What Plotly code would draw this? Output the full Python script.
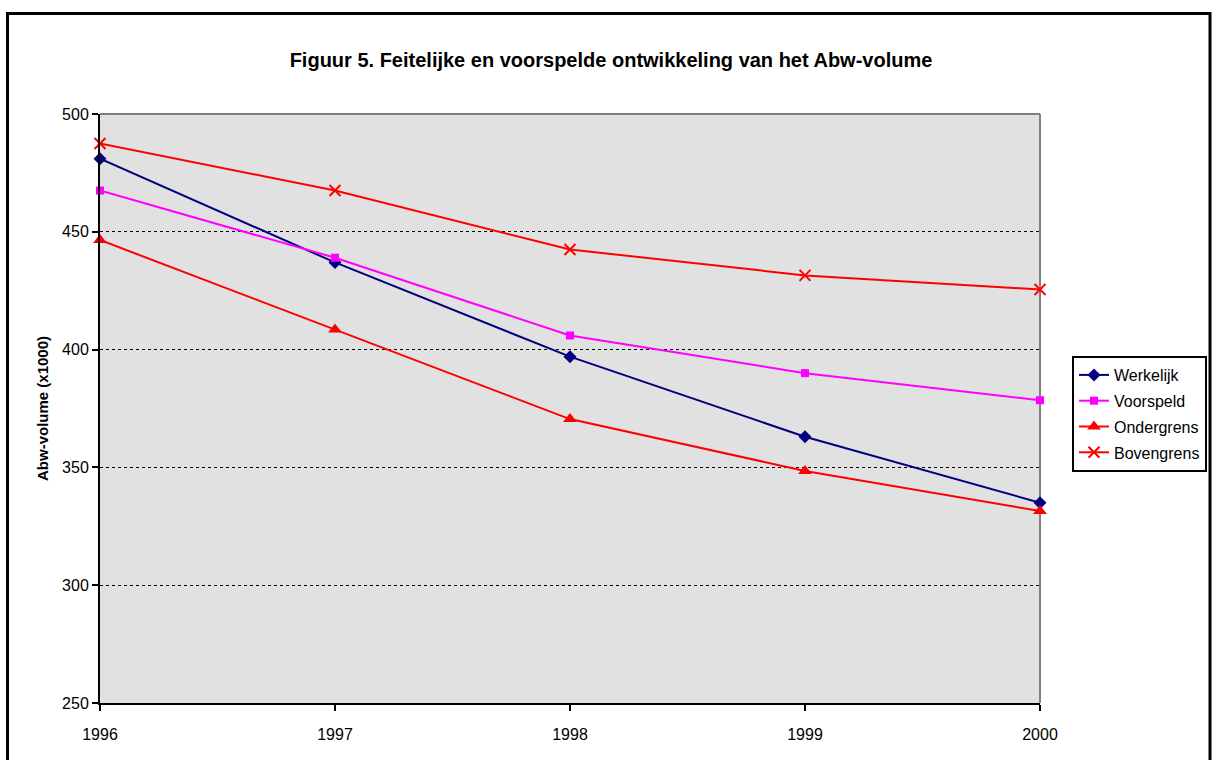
import plotly.graph_objects as go

years = [1996, 1997, 1998, 1999, 2000]
werkelijk = [481, 437, 397, 363, 335]
voorspeld = [467.5, 439, 406, 390, 378.5]
ondergrens = [446.5, 408.5, 370.5, 348.5, 331.5]
bovengrens = [487.5, 467.5, 442.5, 431.5, 425.5]
y_ticks = [250, 300, 350, 400, 450, 500]

FONT = "Liberation Sans, Arial, sans-serif"

fig = go.Figure()
series = [
    ("Werkelijk", werkelijk, "#000080", dict(symbol="diamond", size=10)),
    ("Voorspeld", voorspeld, "#FF00FF", dict(symbol="square", size=8)),
    ("Ondergrens", ondergrens, "#FF0000", dict(symbol="triangle-up", size=12)),
    ("Bovengrens", bovengrens, "#FF0000",
     dict(symbol="x-thin-open", size=11, line=dict(width=2, color="#FF0000"))),
]
for name, vals, color, marker in series:
    fig.add_trace(go.Scatter(
        x=years, y=vals, name=name, mode="lines+markers",
        legendgroup=name,
        line=dict(color=color, width=2),
        marker=dict(color=color, **marker),
        cliponaxis=False,
    ))

fig.update_layout(
    width=1213, height=760,
    margin=dict(l=100, r=173, t=114, b=57, autoexpand=False),
    paper_bgcolor="white",
    plot_bgcolor="#e1e1e1",
    font=dict(family=FONT, size=16, color="black"),
    title=dict(
        text="<b>Figuur 5. Feitelijke en voorspelde ontwikkeling van het Abw-volume</b>",
        x=611 / 1213, xref="container", xanchor="center",
        y=1 - 60 / 760, yref="container", yanchor="middle",
        font=dict(family=FONT, size=20, color="black"),
    ),
    legend=dict(
        x=1072 / 1213, y=1 - 356 / 760, xref="container", yref="container",
        xanchor="left", yanchor="top",
        bordercolor="black", borderwidth=2, bgcolor="white",
        font=dict(family=FONT, size=16, color="black"),
        tracegroupgap=2,
    ),
    showlegend=True,
)

fig.update_xaxes(
    range=[1996, 2000], tickvals=years, ticktext=[str(y) for y in years],
    showgrid=False, zeroline=False,
    showline=True, linecolor="black", linewidth=2,
    ticks="outside", ticklen=6, tickwidth=1.5, tickcolor="black",
    ticklabelstandoff=10,
    tickfont=dict(family=FONT, size=16, color="black"),
)
fig.update_yaxes(
    range=[250, 500], tickvals=y_ticks,
    showgrid=True, gridcolor="black", gridwidth=1, griddash="dot",
    zeroline=False,
    showline=True, linecolor="black", linewidth=2,
    ticks="outside", ticklen=6, tickwidth=1.5, tickcolor="black",
    tickfont=dict(family=FONT, size=16, color="black"),
    title=dict(text="<b>Abw-volume (x1000)</b>", standoff=10,
               font=dict(family=FONT, size=15, color="black")),
)

# gray border on top and right of the plotting area
fig.add_shape(type="line", xref="paper", yref="paper", x0=0, x1=1, y0=1, y1=1,
              line=dict(color="#808080", width=2), layer="between")
fig.add_shape(type="line", xref="paper", yref="paper", x0=1, x1=1, y0=0, y1=1,
              line=dict(color="#808080", width=2), layer="between")

# black frame around the whole chart
fig.add_shape(type="rect", xref="paper", yref="paper",
              x0=(7.5 - 100) / 940, x1=(1210 - 100) / 940,
              y0=(703 - 770) / 589, y1=(703 - 13.5) / 589,
              line=dict(color="black", width=3), fillcolor="rgba(0,0,0,0)",
              layer="above")

fig.write_html("out.html")
